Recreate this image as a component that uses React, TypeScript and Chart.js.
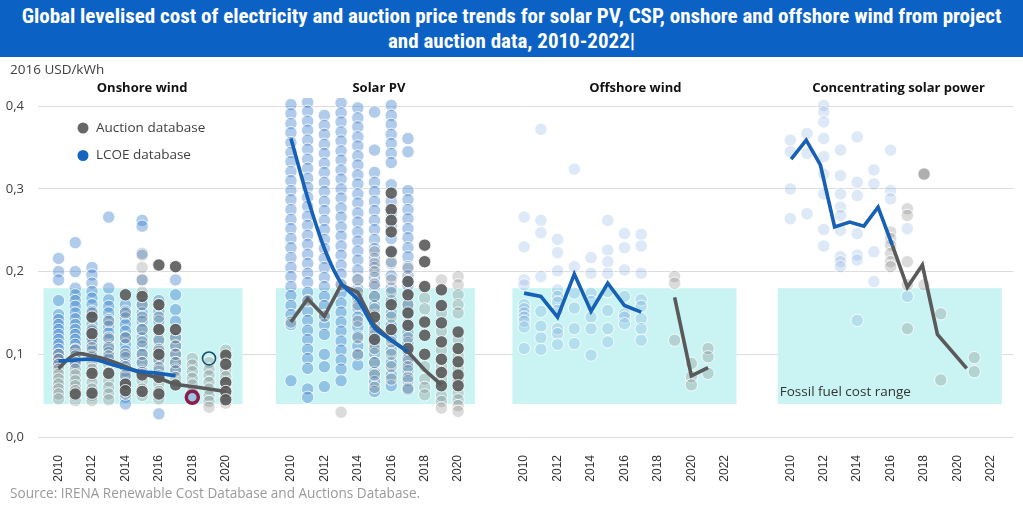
import React, { useEffect, useRef } from "react";
import { Chart, registerables } from "chart.js";
Chart.register(...registerables);

// ---------------- texts ----------------
const titleLine1 =
  "Global levelised cost of electricity and auction price trends for solar PV, CSP, onshore and offshore wind from project";
const titleLine2 = "and auction data, 2010-2022|";
const unitLabel = "2016 USD/kWh";
const sourceText = "Source: IRENA Renewable Cost Database and Auctions Database.";
const fossilLabel = "Fossil fuel cost range";
const legendLabels = ["Auction database", "LCOE database"];
const panelNames = ["Onshore wind", "Solar PV", "Offshore wind", "Concentrating solar power"];

// ---------------- ticks ----------------
const yTickValues = [0, 0.1, 0.2, 0.3, 0.4];
const ticksTo2020 = [2010, 2012, 2014, 2016, 2018, 2020];
const ticksTo2022 = [2010, 2012, 2014, 2016, 2018, 2020, 2022];
const fossilRange = [0.04, 0.18];

// ---------------- onshore wind (columns start 2010) ----------------
const onshoreLcoeCols = [
  [0.216, 0.2, 0.19, 0.165, 0.148, 0.142, 0.136, 0.13, 0.124, 0.118, 0.112, 0.106, 0.1, 0.094, 0.088],
  [0.235, 0.2, 0.18, 0.172, 0.165, 0.158, 0.15, 0.143, 0.136, 0.13, 0.124, 0.118, 0.112, 0.106, 0.1, 0.094, 0.088],
  [0.205, 0.196, 0.186, 0.176, 0.168, 0.16, 0.152, 0.144, 0.136, 0.128, 0.12, 0.112, 0.104, 0.096],
  [0.266, 0.18, 0.166, 0.158, 0.15, 0.142, 0.134, 0.126, 0.118, 0.11, 0.102, 0.094],
  [0.16, 0.152, 0.144, 0.136, 0.128, 0.12, 0.112, 0.104, 0.096, 0.088, 0.08, 0.072, 0.064, 0.056, 0.048, 0.04],
  [0.262, 0.255, 0.222, 0.19, 0.16, 0.15, 0.14, 0.13, 0.12, 0.11, 0.1, 0.09, 0.08],
  [0.165, 0.152, 0.14, 0.128, 0.116, 0.104, 0.092, 0.08, 0.028],
  [0.19, 0.172, 0.154, 0.14, 0.12, 0.11, 0.1, 0.09, 0.082],
];
const onshoreAuctionLightCols = [
  [0.1, 0.094, 0.088, 0.082, 0.076, 0.07, 0.064, 0.058, 0.052, 0.046],
  [0.105, 0.098, 0.09, 0.082, 0.075, 0.068, 0.062, 0.056, 0.05, 0.044],
  [0.15, 0.13, 0.118, 0.108, 0.098, 0.09, 0.082, 0.074, 0.066, 0.058, 0.05, 0.044],
  [0.14, 0.12, 0.108, 0.098, 0.088, 0.078, 0.068, 0.06, 0.052, 0.045],
  [0.15, 0.12, 0.1, 0.085, 0.075, 0.06, 0.052],
  [0.22, 0.205, 0.19, 0.175, 0.16, 0.145, 0.13, 0.115, 0.1, 0.09, 0.078, 0.068, 0.058, 0.05],
  [0.16, 0.145, 0.13, 0.118, 0.106, 0.094, 0.084, 0.074, 0.064, 0.055, 0.046],
  [0.13, 0.12, 0.11, 0.1, 0.09, 0.08, 0.072],
  [0.095, 0.087, 0.079, 0.071, 0.063, 0.055, 0.047],
  [0.09, 0.082, 0.074, 0.066, 0.058, 0.05, 0.043, 0.036],
  [0.105, 0.097, 0.089, 0.081, 0.073, 0.065, 0.057, 0.049, 0.041],
];
const onshoreAuctionStrongCols = [
  [],
  [0.052],
  [0.145, 0.125, 0.077, 0.053],
  [0.077],
  [0.172, 0.064, 0.056],
  [0.17, 0.075, 0.055],
  [0.208, 0.16, 0.13, 0.1, 0.072, 0.052],
  [0.206, 0.13, 0.063],
  [],
  [],
  [0.099, 0.088, 0.066, 0.055, 0.045],
];
const onshoreLcoeLineYears = [2010, 2011, 2012, 2013, 2014, 2015, 2016, 2017];
const onshoreLcoeLine = [0.092, 0.093, 0.094, 0.089, 0.083, 0.079, 0.077, 0.074];
const onshoreAuctionLineYears = [2010, 2011, 2012, 2013, 2014, 2015, 2016, 2017, 2018, 2019, 2020];
const onshoreAuctionLine = [0.083, 0.1, 0.098, 0.093, 0.085, 0.077, 0.071, 0.064, 0.061, 0.058, 0.055];
const onshoreOpenMarker = [{ year: 2019, value: 0.095 }];
const onshoreRingMarker = [{ year: 2018, value: 0.048 }];

// ---------------- solar PV ----------------
const solarLcoeCols = [
  [0.402, 0.391, 0.379, 0.368, 0.356, 0.344, 0.333, 0.321, 0.31, 0.298, 0.287, 0.275, 0.263, 0.252, 0.24, 0.229, 0.217, 0.205, 0.194, 0.182, 0.171, 0.159, 0.148, 0.136, 0.068],
  [0.405, 0.394, 0.382, 0.371, 0.359, 0.348, 0.336, 0.325, 0.313, 0.302, 0.29, 0.279, 0.267, 0.256, 0.244, 0.233, 0.221, 0.21, 0.198, 0.187, 0.175, 0.164, 0.152, 0.141, 0.129, 0.118, 0.106, 0.095, 0.083, 0.058, 0.048],
  [0.389, 0.377, 0.366, 0.354, 0.343, 0.331, 0.32, 0.308, 0.297, 0.285, 0.274, 0.262, 0.251, 0.239, 0.228, 0.216, 0.205, 0.193, 0.182, 0.17, 0.159, 0.147, 0.136, 0.124, 0.1, 0.085, 0.061],
  [0.404, 0.392, 0.381, 0.369, 0.358, 0.346, 0.335, 0.323, 0.312, 0.3, 0.289, 0.277, 0.266, 0.254, 0.243, 0.231, 0.22, 0.208, 0.197, 0.185, 0.174, 0.162, 0.151, 0.139, 0.128, 0.116, 0.105, 0.093, 0.082, 0.068],
  [0.398, 0.386, 0.375, 0.363, 0.352, 0.34, 0.329, 0.317, 0.306, 0.294, 0.283, 0.271, 0.26, 0.248, 0.237, 0.225, 0.214, 0.202, 0.191, 0.179, 0.168, 0.156, 0.145, 0.133, 0.122, 0.11, 0.099, 0.087],
  [0.393, 0.347, 0.32, 0.308, 0.297, 0.285, 0.274, 0.262, 0.251, 0.239, 0.228, 0.216, 0.205, 0.193, 0.182, 0.17, 0.159, 0.147, 0.136, 0.124, 0.113, 0.101, 0.09, 0.078, 0.067, 0.055],
  [0.401, 0.389, 0.378, 0.366, 0.355, 0.343, 0.332, 0.305, 0.285, 0.27, 0.255, 0.24, 0.225, 0.21, 0.195, 0.18, 0.165, 0.15, 0.135, 0.12, 0.105, 0.09, 0.075, 0.062],
  [0.361, 0.345, 0.298, 0.287, 0.275, 0.264, 0.252, 0.241, 0.229, 0.218, 0.206, 0.195, 0.183, 0.172, 0.16, 0.149, 0.137, 0.126, 0.114, 0.103, 0.091, 0.08, 0.068, 0.057],
];
const solarAuctionLightCols = [
  [0.139],
  [0.165],
  [0.146],
  [0.184, 0.03],
  [0.19, 0.175, 0.16, 0.14, 0.12, 0.1],
  [0.224, 0.21, 0.2, 0.185, 0.17, 0.155, 0.13, 0.107, 0.09, 0.075, 0.06],
  [0.212, 0.19, 0.175, 0.145, 0.115, 0.1, 0.085, 0.07],
  [0.204, 0.16, 0.12, 0.095, 0.085, 0.072, 0.059],
  [0.168, 0.155, 0.085, 0.07, 0.06, 0.051],
  [0.19, 0.15, 0.128, 0.105, 0.085, 0.07, 0.05, 0.043, 0.035],
  [0.194, 0.184, 0.172, 0.16, 0.15, 0.118, 0.099, 0.083, 0.068, 0.053, 0.045, 0.038, 0.031],
];
const solarAuctionStrongCols = [
  [],
  [],
  [],
  [],
  [],
  [0.145, 0.118],
  [0.295, 0.275, 0.262, 0.248, 0.224, 0.16, 0.13],
  [0.188, 0.172, 0.15, 0.135, 0.107],
  [0.232, 0.212, 0.182, 0.139, 0.123, 0.1],
  [0.178, 0.159, 0.138, 0.115, 0.094, 0.078, 0.062],
  [0.127, 0.107, 0.091, 0.075, 0.062],
];
const solarLcoeLineYears = [2010, 2011, 2012, 2013, 2014, 2015, 2016, 2017];
const solarLcoeLine = [0.361, 0.289, 0.228, 0.186, 0.166, 0.132, 0.117, 0.103];
const solarAuctionLineYears = [2010, 2011, 2012, 2013, 2014, 2015, 2016, 2017, 2018, 2019];
const solarAuctionLine = [0.139, 0.167, 0.146, 0.184, 0.175, 0.135, 0.117, 0.103, 0.081, 0.063];

// ---------------- offshore wind ----------------
const offshoreLcoeCols = [
  [0.266, 0.23, 0.19, 0.184, 0.16, 0.155, 0.15, 0.145, 0.14, 0.133, 0.107],
  [0.372, 0.262, 0.247, 0.194, 0.152, 0.134, 0.12, 0.106],
  [0.239, 0.223, 0.201, 0.178, 0.17, 0.163, 0.153, 0.131, 0.125, 0.112],
  [0.324, 0.206, 0.174, 0.156, 0.131, 0.113],
  [0.217, 0.198, 0.174, 0.164, 0.145, 0.131, 0.099],
  [0.262, 0.226, 0.212, 0.198, 0.176, 0.153, 0.131, 0.115],
  [0.246, 0.229, 0.202, 0.17, 0.149, 0.145, 0.137],
  [0.245, 0.231, 0.198, 0.166, 0.158, 0.143, 0.131, 0.117],
];
const offshoreAuctionLightCols = [
  [], [], [], [], [], [], [], [], [],
  [0.194, 0.186, 0.117],
  [0.089, 0.073, 0.063],
  [0.107, 0.097, 0.077],
];
const offshoreLcoeLineYears = [2010, 2011, 2012, 2013, 2014, 2015, 2016, 2017];
const offshoreLcoeLine = [0.174, 0.17, 0.145, 0.197, 0.152, 0.186, 0.159, 0.151];
const offshoreAuctionLineYears = [2019, 2020, 2021];
const offshoreAuctionLine = [0.169, 0.074, 0.084];

// ---------------- concentrating solar power ----------------
const cspLcoeCols = [
  [0.359, 0.345, 0.3, 0.264],
  [0.367, 0.343, 0.27],
  [0.401, 0.393, 0.381, 0.361, 0.339, 0.318, 0.294, 0.251, 0.231],
  [0.347, 0.316, 0.294, 0.278, 0.268, 0.25, 0.218, 0.212, 0.206],
  [0.363, 0.308, 0.292, 0.246, 0.22, 0.214, 0.141],
  [0.323, 0.306, 0.224, 0.188],
  [0.347, 0.298, 0.288],
  [0.252, 0.17],
];
const cspAuctionLightCols = [
  [], [], [], [], [], [],
  [0.248, 0.24, 0.232, 0.222, 0.212, 0.206],
  [0.276, 0.268, 0.212, 0.184, 0.131],
  [0.184],
  [0.149, 0.069],
  [],
  [0.096, 0.079],
];
const cspAuctionMidCols = [[], [], [], [], [], [], [], [], [0.318]];
const cspLcoeLineYears = [2010.05, 2010.95, 2011.8, 2012.65, 2013.55, 2014.4, 2015.25, 2016.1];
const cspLcoeLine = [0.336, 0.359, 0.329, 0.254, 0.26, 0.255, 0.278, 0.232];
const cspAuctionLineYears = [2016.1, 2017.0, 2017.9, 2018.8, 2020.55];
const cspAuctionLine = [0.232, 0.181, 0.208, 0.124, 0.083];

// ---------------- layout (positions, not data) ----------------
const X_MIN = 2008.77;
const X_MAX = 2067.12;
const panelLayout = [
  { offset: 0, rect: [2009.1, 2021.0], ticks: ticksTo2020, titleAt: 2015.0 },
  { offset: 13.9, rect: [2009.1, 2021.0], ticks: ticksTo2020, titleAt: 2015.26 },
  { offset: 27.85, rect: [2009.3, 2022.7], ticks: ticksTo2022, titleAt: 2016.65 },
  { offset: 43.77, rect: [2009.25, 2022.65], ticks: ticksTo2022, titleAt: 2016.47 },
];

const BLUE_LINE = "#1660b6";
const GREY_LINE = "#5a5a5a";
const FONT = "'Open Sans', 'Noto Sans', sans-serif";

function colPoints(cols: number[][], offset: number) {
  const out: { x: number; y: number }[] = [];
  cols.forEach((vals, i) => vals.forEach((v) => out.push({ x: 2010 + i + offset, y: v })));
  return out;
}
function linePoints(years: number[], vals: number[], offset: number) {
  return years.map((yr, i) => ({ x: yr + offset, y: vals[i] }));
}

function scatterSet(data: any[], fill: string, order: number, border = "rgba(255,255,255,0.85)") {
  return {
    data,
    showLine: false,
    pointRadius: 6.2,
    pointBorderWidth: 1,
    pointBackgroundColor: fill,
    pointBorderColor: border,
    order,
  };
}
function lineSet(data: any[], color: string, tension: number) {
  return {
    data,
    showLine: true,
    borderColor: color,
    borderWidth: 3.6,
    pointRadius: 0,
    tension,
    fill: false,
    order: 0,
  };
}

function buildDatasets() {
  const [p1, p2, p3, p4] = panelLayout.map((p) => p.offset);
  const lcoeStrong = "rgba(60,125,205,0.4)";
  const lcoeFaint = "rgba(90,145,215,0.2)";
  const aucLight = "rgba(115,115,115,0.26)";
  const aucMid = "rgba(110,110,110,0.55)";
  const aucStrong = "rgba(85,85,85,0.88)";
  return [
    scatterSet(colPoints(onshoreLcoeCols, p1), lcoeStrong, 5),
    scatterSet(colPoints(solarLcoeCols, p2), lcoeStrong, 5),
    scatterSet(colPoints(offshoreLcoeCols, p3), lcoeFaint, 5),
    scatterSet(colPoints(cspLcoeCols, p4), lcoeFaint, 5),
    scatterSet(colPoints(onshoreAuctionLightCols, p1), aucLight, 4),
    scatterSet(colPoints(solarAuctionLightCols, p2), aucLight, 4),
    scatterSet(colPoints(offshoreAuctionLightCols, p3), aucLight, 4),
    scatterSet(colPoints(cspAuctionLightCols, p4), aucLight, 4),
    scatterSet(colPoints(cspAuctionMidCols, p4), aucMid, 3),
    scatterSet(colPoints(onshoreAuctionStrongCols, p1), aucStrong, 2),
    scatterSet(colPoints(solarAuctionStrongCols, p2), aucStrong, 2),
    {
      data: onshoreOpenMarker.map((m) => ({ x: m.year + p1, y: m.value })),
      showLine: false,
      pointRadius: 6.5,
      pointBorderWidth: 1.6,
      pointBackgroundColor: "rgba(255,255,255,0)",
      pointBorderColor: "#17506e",
      order: 1,
    },
    {
      data: onshoreRingMarker.map((m) => ({ x: m.year + p1, y: m.value })),
      showLine: false,
      pointRadius: 6,
      pointBorderWidth: 3.5,
      pointBackgroundColor: "#9cc6df",
      pointBorderColor: "#8b1d4c",
      order: 1,
    },
    lineSet(linePoints(onshoreLcoeLineYears, onshoreLcoeLine, p1), BLUE_LINE, 0.4),
    lineSet(linePoints(onshoreAuctionLineYears, onshoreAuctionLine, p1), GREY_LINE, 0.4),
    lineSet(linePoints(solarLcoeLineYears, solarLcoeLine, p2), BLUE_LINE, 0.25),
    lineSet(linePoints(solarAuctionLineYears, solarAuctionLine, p2), GREY_LINE, 0),
    lineSet(linePoints(offshoreLcoeLineYears, offshoreLcoeLine, p3), BLUE_LINE, 0),
    lineSet(linePoints(offshoreAuctionLineYears, offshoreAuctionLine, p3), GREY_LINE, 0),
    lineSet(linePoints(cspLcoeLineYears, cspLcoeLine, p4), BLUE_LINE, 0),
    lineSet(linePoints(cspAuctionLineYears, cspAuctionLine, p4), GREY_LINE, 0),
  ];
}

const tickValues: number[] = [];
const tickLabels: string[] = [];
panelLayout.forEach((p) =>
  p.ticks.forEach((yr) => {
    tickValues.push(yr + p.offset);
    tickLabels.push(String(yr));
  })
);

const decorPlugin = {
  id: "decor",
  beforeDatasetsDraw(chart: any) {
    const { ctx, scales } = chart;
    const x = scales.x;
    const y = scales.y;
    ctx.save();
    ctx.fillStyle = "#caf3f3";
    const yTop = y.getPixelForValue(fossilRange[1]);
    const yBot = y.getPixelForValue(fossilRange[0]);
    panelLayout.forEach((p) => {
      const x0 = x.getPixelForValue(p.rect[0] + p.offset);
      const x1 = x.getPixelForValue(p.rect[1] + p.offset);
      ctx.fillRect(x0, yTop, x1 - x0, yBot - yTop);
    });
    const last = panelLayout[3];
    ctx.fillStyle = "#333333";
    ctx.font = `13.5px ${FONT}`;
    ctx.textBaseline = "middle";
    ctx.textAlign = "left";
    ctx.fillText(fossilLabel, x.getPixelForValue(last.rect[0] + last.offset) + 2, y.getPixelForValue(0.0547));
    ctx.restore();
  },
  afterDraw(chart: any) {
    const { ctx, scales } = chart;
    const x = scales.x;
    ctx.save();
    ctx.textBaseline = "middle";
    ctx.fillStyle = "#111111";
    ctx.font = `bold 13px ${FONT}`;
    ctx.textAlign = "center";
    panelLayout.forEach((p, i) => {
      ctx.fillText(panelNames[i], x.getPixelForValue(p.titleAt + p.offset), 88);
    });
    ctx.textAlign = "left";
    ctx.fillStyle = "#404040";
    ctx.font = `13.5px ${FONT}`;
    ctx.fillText(unitLabel, 10, 70);
    const legendColors = ["#676767", "#1565c0"];
    legendLabels.forEach((lab, i) => {
      const cy = 128 + i * 27.5;
      ctx.beginPath();
      ctx.arc(83, cy, 5.5, 0, Math.PI * 2);
      ctx.fillStyle = legendColors[i];
      ctx.fill();
      ctx.fillStyle = "#404040";
      ctx.font = `13.5px ${FONT}`;
      ctx.fillText(lab, 96, cy);
    });
    ctx.fillStyle = "#9a9a9a";
    ctx.font = `13.6px ${FONT}`;
    ctx.fillText(sourceText, 10, 494);
    ctx.restore();
  },
};

export default function App() {
  const canvasRef = useRef<HTMLCanvasElement | null>(null);

  useEffect(() => {
    document.body.style.margin = "0";
    const canvas = canvasRef.current;
    if (!canvas) return;
    const chart = new Chart(canvas, {
      type: "scatter",
      data: { datasets: buildDatasets() as any },
      options: {
        responsive: false,
        animation: false,
        events: [],
        layout: { padding: { top: 98, right: 3, left: 0, bottom: 0 } },
        plugins: { legend: { display: false }, tooltip: { enabled: false } },
        scales: {
          x: {
            type: "linear",
            min: X_MIN,
            max: X_MAX,
            grid: { display: false },
            border: { display: false },
            afterBuildTicks: (axis: any) => {
              axis.ticks = tickValues.map((v) => ({ value: v }));
            },
            afterFit: (axis: any) => {
              axis.height = 75;
            },
            ticks: {
              autoSkip: false,
              minRotation: 90,
              maxRotation: 90,
              padding: 10,
              color: "#333333",
              font: { family: "'Liberation Sans', Arial, sans-serif", size: 12 },
              callback: (_v: any, i: number) => tickLabels[i],
            },
          },
          y: {
            min: 0,
            max: 0.41,
            afterBuildTicks: (axis: any) => {
              axis.ticks = yTickValues.map((v) => ({ value: v }));
            },
            afterFit: (axis: any) => {
              axis.width = 38;
            },
            grid: { color: "#dcdcdc", drawTicks: false, lineWidth: 1 },
            border: { display: false },
            ticks: {
              padding: 14,
              color: "#404040",
              font: { family: FONT, size: 13 },
              callback: (v: any) => Number(v).toFixed(1).replace(".", ","),
            },
          },
        },
      } as any,
      plugins: [decorPlugin],
    });
    return () => chart.destroy();
  }, []);

  return (
    <div style={{ position: "fixed", left: 0, top: 0, width: 1023, height: 512, background: "#ffffff" }}>
      <canvas ref={canvasRef} width={1023} height={512} style={{ position: "absolute", left: 0, top: 0 }} />
      <div
        style={{
          position: "absolute",
          left: 0,
          top: 0,
          width: 1023,
          height: 57,
          background: "#0b62c4",
          color: "#ffffff",
          fontFamily: "'Liberation Sans Narrow', 'Roboto Condensed', 'Open Sans', sans-serif",
          fontWeight: "bold",
          fontSize: "21px",
          lineHeight: "25px",
          textAlign: "center",
          boxSizing: "border-box",
          paddingTop: 4,
          whiteSpace: "nowrap",
          overflow: "hidden",
        }}
      >
        <div>{titleLine1}</div>
        <div>{titleLine2}</div>
      </div>
    </div>
  );
}
